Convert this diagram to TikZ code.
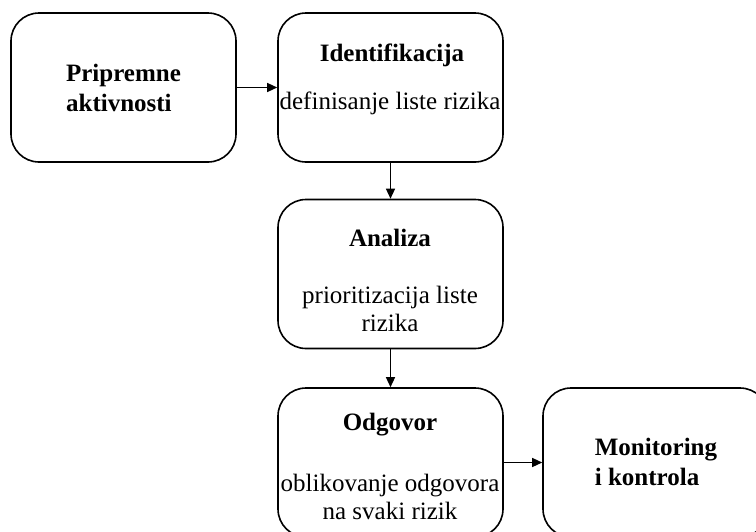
\documentclass[tikz,border=0pt]{standalone}
\usepackage{fontspec}
\setmainfont{Liberation Serif}
\usetikzlibrary{arrows.meta}

\begin{document}
\begin{tikzpicture}[x=1pt,y=-1pt,
		box/.style={draw, line width=1.6pt, rounded corners=28pt, minimum width=225pt, minimum height=149pt},
		head/.style={font=\fontsize{25}{30}\selectfont\bfseries},
		desc/.style={font=\fontsize{25}{28}\selectfont, align=center},
		link/.style={line width=1.3pt, -{Triangle[length=10pt,width=9pt]}}]
		\clip (0,0) rectangle (756,531);
		% boxes
		\node[box] (prip) at (123.5,87.5) {};
		\node[box] (ident) at (390.5,87.5) {};
		\node[box] (anal) at (390.5,274) {};
		\node[box] (odg) at (390.5,462.5) {};
		\node[box] (mon) at (655.5,462.5) {};
		% texts
		\node[head, align=left] (priptxt) at (123.5,88) {Pripremne\\aktivnosti};
		\node[head] (identtxt) at (392,55) {Identifikacija};
		\node[desc] (identdesc) at (390,103) {definisanje liste rizika};
		\node[head] (analtxt) at (390,238) {Analiza};
		\node[desc] (analdesc) at (390,309) {prioritizacija liste\\rizika};
		\node[head] (odgtxt) at (390,425) {Odgovor};
		\node[desc] (odgdesc) at (390,497) {oblikovanje odgovora\\na svaki rizik};
		\node[head, align=left] (montxt) at (656,462) {Monitoring\\i kontrola};
		% arrows
		\draw[link] (prip) -- (ident);
		\draw[link] (ident) -- (anal);
		\draw[link] (anal) -- (odg);
		\draw[link] (odg) -- (mon);
	\end{tikzpicture}
\end{document}
